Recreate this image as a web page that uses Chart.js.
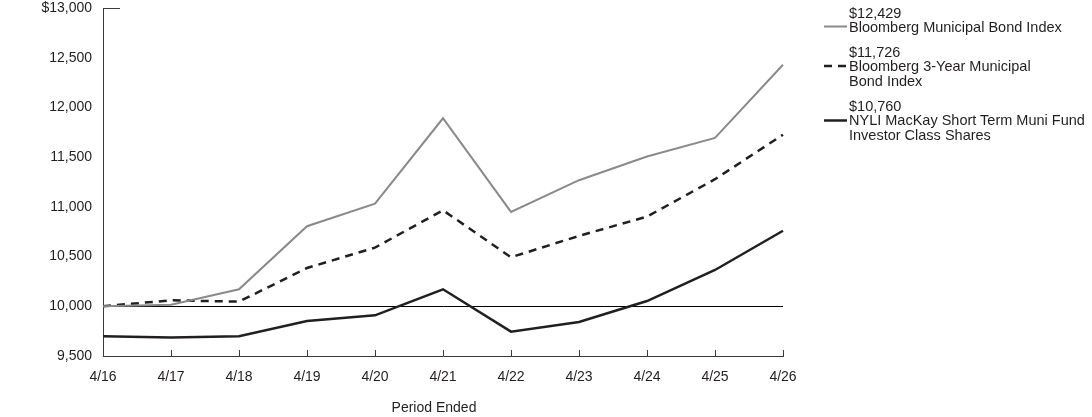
<!DOCTYPE html>
<html>
<head>
<meta charset="utf-8">
<script src="https://cdn.jsdelivr.net/npm/chart.js@4"></script>
<style>
  html, body { margin: 0; padding: 0; background: #fff; }
  #wrap { position: relative; width: 1092px; height: 417px; overflow: hidden; }
  #c { position: absolute; left: 0; top: 0; }
  .lg { position: absolute; left: 849px; font-family: "Liberation Sans", Arial, sans-serif; font-size: 14.5px; line-height: 14.5px; color: #231f20; white-space: nowrap; }
  #lgsvg { position: absolute; left: 0; top: 0; }
</style>
</head>
<body>
<div id="wrap">
  <canvas id="c" width="1092" height="417"></canvas>
  <svg id="lgsvg" width="1092" height="417">
    <line x1="824" y1="26.5" x2="847" y2="26.5" stroke="#8a8a8a" stroke-width="2"/>
    <line x1="824" y1="66" x2="847" y2="66" stroke="#231f20" stroke-width="2.5" stroke-dasharray="8,6"/>
    <line x1="824" y1="120.5" x2="847" y2="120.5" stroke="#231f20" stroke-width="2.5"/>
  </svg>
  <div class="lg" style="top:5.5px">$12,429<br>Bloomberg Municipal Bond Index</div>
  <div class="lg" style="top:44.5px">$11,726<br>Bloomberg 3-Year Municipal<br>Bond Index</div>
  <div class="lg" style="top:98.5px">$10,760<br>NYLI MacKay Short Term Muni Fund<br>Investor Class Shares</div>
</div>
<script>
const categories = ['4/16', '4/17', '4/18', '4/19', '4/20', '4/21', '4/22', '4/23', '4/24', '4/25', '4/26'];
const muniBondIndex = [10000, 10015, 10171, 10805, 11033, 11891, 10949, 11268, 11506, 11693, 12429];
const muni3YearIndex = [10000, 10060, 10047, 10385, 10590, 10966, 10493, 10708, 10902, 11278, 11726];
const fundInvestor = [9698, 9685, 9698, 9852, 9909, 10171, 9745, 9842, 10053, 10365, 10760];
const yMin = 9500, yMax = 13000, yStep = 500;
const xTitle = 'Period Ended';

const FONT = '"Liberation Sans", Arial, sans-serif';
const AXIS = '#3a3a3a';

const axisPlugin = {
  id: 'axisDeco',
  afterDraw(chart) {
    const ctx = chart.ctx;
    const xs = chart.scales.x, ys = chart.scales.y;
    const area = chart.chartArea;
    ctx.save();
    ctx.strokeStyle = AXIS;
    ctx.lineWidth = 1;
    categories.forEach((c, i) => {
      const px = Math.round(xs.getPixelForValue(i)) + 0.5;
      ctx.beginPath();
      ctx.moveTo(px, area.bottom);
      ctx.lineTo(px, area.bottom - 6);
      ctx.stroke();
    });
    const ty = Math.round(ys.getPixelForValue(yMax)) + 0.5;
    ctx.beginPath();
    ctx.moveTo(area.left, ty);
    ctx.lineTo(area.left + 17, ty);
    ctx.stroke();
    ctx.fillStyle = '#231f20';
    ctx.font = '14px ' + FONT;
    ctx.textAlign = 'center';
    ctx.textBaseline = 'middle';
    ctx.fillText(xTitle, 434, 408);
    ctx.restore();
  }
};

new Chart(document.getElementById('c'), {
  type: 'line',
  data: {
    labels: categories,
    datasets: [
      { label: 'Bloomberg Municipal Bond Index', data: muniBondIndex, borderColor: '#8a8a8a', borderWidth: 2, pointRadius: 0, tension: 0, fill: false },
      { label: 'Bloomberg 3-Year Municipal Bond Index', data: muni3YearIndex, borderColor: '#231f20', borderWidth: 2.5, borderDash: [8, 6], pointRadius: 0, tension: 0, fill: false },
      { label: 'NYLI MacKay Short Term Muni Fund Investor Class Shares', data: fundInvestor, borderColor: '#231f20', borderWidth: 2.5, pointRadius: 0, tension: 0, fill: false }
    ]
  },
  options: {
    responsive: false,
    devicePixelRatio: 1,
    animation: false,
    layout: { padding: { left: 0, right: 309, top: 8, bottom: 0 } },
    plugins: { legend: { display: false }, tooltip: { enabled: false }, title: { display: false } },
    scales: {
      x: {
        type: 'category',
        offset: false,
        afterFit: (s) => { s.height = 61; s.paddingLeft = 0; s.paddingRight = 0; },
        grid: { display: false, drawTicks: false },
        border: { display: true, color: AXIS, width: 1 },
        ticks: { color: '#231f20', font: { family: FONT, size: 14, lineHeight: 1.2 }, padding: 12.6, maxRotation: 0, autoSkip: false }
      },
      y: {
        min: yMin, max: yMax,
        afterFit: (s) => { s.width = 103; s.paddingTop = 0; s.paddingBottom = 0; },
        grid: {
          drawTicks: false,
          color: (ctx) => (ctx.tick && ctx.tick.value === 10000 ? '#000000' : 'rgba(0,0,0,0)'),
          lineWidth: 1
        },
        border: { display: true, color: AXIS, width: 1 },
        ticks: {
          stepSize: yStep,
          color: '#231f20',
          padding: 11,
          font: { family: FONT, size: 14, lineHeight: 1 },
          callback: (v) => (v === yMax ? '$' : '') + Number(v).toLocaleString('en-US')
        }
      }
    }
  },
  plugins: [axisPlugin]
});
</script>
</body>
</html>
